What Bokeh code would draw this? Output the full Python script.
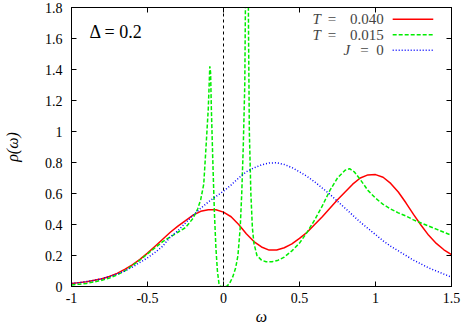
from bokeh.plotting import figure
from bokeh.models import Span, Label, Arrow, LinearAxis, FixedTicker, Range1d
from bokeh.embed import file_html
from bokeh.resources import INLINE

# ---- data ----
omega = [-1.00, -0.95, -0.90, -0.85, -0.80, -0.75, -0.70, -0.65, -0.60, -0.55,
         -0.50, -0.45, -0.40, -0.35, -0.30, -0.25, -0.20, -0.15, -0.10, -0.05,
         0.00, 0.05, 0.10, 0.15, 0.20, 0.25, 0.30, 0.35, 0.40, 0.45,
         0.50, 0.55, 0.60, 0.65, 0.70, 0.75, 0.80, 0.85, 0.90, 0.95,
         1.00, 1.05, 1.10, 1.15, 1.20, 1.25, 1.30, 1.35, 1.40, 1.45, 1.50]

rho_T040 = [0.020, 0.025, 0.030, 0.040, 0.050, 0.065, 0.085, 0.110, 0.140, 0.175,
            0.215, 0.260, 0.305, 0.350, 0.390, 0.425, 0.460, 0.485, 0.495, 0.495,
            0.480, 0.450, 0.400, 0.340, 0.290, 0.255, 0.235, 0.235, 0.250, 0.275,
            0.310, 0.350, 0.400, 0.450, 0.505, 0.560, 0.610, 0.660, 0.700, 0.720,
            0.722, 0.705, 0.665, 0.610, 0.540, 0.465, 0.395, 0.330, 0.278, 0.237, 0.205]

rho_J0 = [0.020, 0.025, 0.032, 0.040, 0.050, 0.065, 0.080, 0.100, 0.125, 0.155,
          0.185, 0.220, 0.260, 0.320, 0.360, 0.410, 0.460, 0.505, 0.545, 0.580,
          0.615, 0.655, 0.700, 0.740, 0.765, 0.785, 0.797, 0.798, 0.787, 0.767,
          0.740, 0.710, 0.675, 0.635, 0.595, 0.550, 0.505, 0.460, 0.415, 0.375,
          0.335, 0.295, 0.260, 0.230, 0.200, 0.170, 0.145, 0.120, 0.100, 0.080, 0.060]

omega_T015 = [-1.00, -0.95, -0.90, -0.85, -0.80, -0.75, -0.70, -0.65, -0.60, -0.55,
              -0.50, -0.45, -0.40, -0.35, -0.30, -0.25, -0.20, -0.17, -0.15, -0.13,
              -0.115, -0.10, -0.09, -0.085, -0.08, -0.07, -0.06, -0.05, -0.04, -0.03,
              -0.02, 0.00, 0.02, 0.04, 0.06, 0.08, 0.095, 0.11, 0.12, 0.13,
              0.14, 0.145, 0.15, 0.155, 0.16, 0.165, 0.17, 0.18, 0.19, 0.20,
              0.22, 0.25, 0.28, 0.32, 0.36, 0.40, 0.45, 0.50, 0.55, 0.60,
              0.65, 0.70, 0.75, 0.80, 0.83, 0.86, 0.90, 0.95, 1.00, 1.05,
              1.10, 1.15, 1.20, 1.25, 1.30, 1.35, 1.40, 1.45, 1.50]

rho_T015 = [0.010, 0.015, 0.020, 0.030, 0.040, 0.055, 0.075, 0.100, 0.135, 0.170,
            0.210, 0.250, 0.290, 0.320, 0.350, 0.380, 0.440, 0.500, 0.560, 0.660,
            0.900, 1.150, 1.420, 1.380, 1.150, 0.800, 0.480, 0.250, 0.100, 0.020,
            0.000, 0.000, 0.000, 0.020, 0.060, 0.120, 0.200, 0.380, 0.600, 0.900,
            1.300, 1.900, 2.600, 3.000, 2.400, 1.600, 1.000, 0.600, 0.380, 0.280,
            0.200, 0.170, 0.160, 0.160, 0.170, 0.190, 0.230, 0.280, 0.350, 0.430,
            0.520, 0.620, 0.700, 0.750, 0.760, 0.740, 0.690, 0.620, 0.570, 0.530,
            0.500, 0.475, 0.455, 0.430, 0.410, 0.390, 0.370, 0.350, 0.330]

x_ticks = [-1, -0.5, 0, 0.5, 1, 1.5]
x_tick_labels = ["-1", "-0.5", "0", "0.5", "1", "1.5"]
y_ticks = [0, 0.2, 0.4, 0.6, 0.8, 1, 1.2, 1.4, 1.6, 1.8]
y_tick_labels = ["0", "0.2", "0.4", "0.6", "0.8", "1", "1.2", "1.4", "1.6", "1.8"]

FONT = "Liberation Serif, serif"

p = figure(width=463, height=329, x_range=Range1d(-1, 1.5), y_range=Range1d(0, 1.8),
           output_backend="svg", toolbar_location=None,
           min_border_left=70, min_border_right=12, min_border_top=7, min_border_bottom=43)
p.grid.visible = False
p.outline_line_color = "black"
p.outline_line_width = 1
p.background_fill_color = "white"
p.border_fill_color = "white"


def style_axis(ax, ticks, labels, show_labels=True):
    ax.ticker = FixedTicker(ticks=ticks)
    ax.major_tick_in = 5
    ax.major_tick_out = 0
    ax.minor_tick_line_color = None
    ax.axis_line_color = "black"
    ax.major_tick_line_color = "black"
    ax.major_label_text_font = FONT
    ax.major_label_text_color = "black"
    if show_labels:
        ax.major_label_overrides = {t: l for t, l in zip(ticks, labels)}
        ax.major_label_text_font_size = "14px"
    else:
        ax.major_label_overrides = {t: "" for t in ticks}
        ax.major_label_text_font_size = "1px"
        ax.major_label_standoff = 0
        ax.axis_label = None
        ax.axis_label_standoff = 0


xa = p.xaxis[0]
ya = p.yaxis[0]
style_axis(xa, x_ticks, x_tick_labels)
style_axis(ya, y_ticks, y_tick_labels)
xa.major_label_standoff = 6
ya.major_label_standoff = 9
xa.axis_label = "ω"
ya.axis_label = "ρ(ω)"
for ax in (xa, ya):
    ax.axis_label_text_font = FONT
    ax.axis_label_text_font_size = "16px"
    ax.axis_label_text_font_style = "italic"
    ax.axis_label_text_color = "black"
xa.axis_label_standoff = 2
ya.axis_label_standoff = 21

top_ax = LinearAxis()
right_ax = LinearAxis()
style_axis(top_ax, x_ticks, x_tick_labels, show_labels=False)
style_axis(right_ax, y_ticks, y_tick_labels, show_labels=False)
p.add_layout(top_ax, "above")
p.add_layout(right_ax, "right")

# zero line
p.add_layout(Span(location=0, dimension="height", line_color="black",
                  line_width=1, line_dash="3 3"))

RED, GREEN, BLUE = "#ff0000", "#00ee00", "#0000ff"
p.line(omega, rho_T040, line_color=RED, line_width=1.5)
p.line(omega_T015, rho_T015, line_color=GREEN, line_width=1.5, line_dash="4 2")
p.line(omega, rho_J0, line_color=BLUE, line_width=1.5, line_dash="1 2")

# Delta label
p.add_layout(Label(x=-0.882, y=1.64, text="Δ = 0.2", text_font=FONT,
                   text_font_size="18px", text_baseline="middle", text_color="black"))

# legend (gnuplot style: text then sample)
rows = [
    ("T", "0.040", 0.586, 0.713, 1.725, RED, None),
    ("T", "0.015", 0.586, 0.713, 1.625, GREEN, "4 2"),
    ("J", "0", 0.79, 0.927, 1.525, BLUE, "1 2"),
]
for sym, num, xs, xe, yy, col, dash in rows:
    p.add_layout(Label(x=xs, y=yy, text=sym, text_font=FONT, text_font_size="15px",
                       text_font_style="italic", text_baseline="middle", text_align="left"))
    p.add_layout(Label(x=xe, y=yy, text="=", text_font=FONT, text_font_size="15px",
                       text_baseline="middle", text_align="center"))
    p.add_layout(Label(x=1.054, y=yy, text=num, text_font=FONT, text_font_size="15px",
                       text_baseline="middle", text_align="right"))
    kw = dict(end=None, x_start=1.113, y_start=yy, x_end=1.38, y_end=yy,
              line_color=col, line_width=1.5)
    if dash:
        kw["line_dash"] = dash
    p.add_layout(Arrow(**kw))

open("out.html", "w").write(file_html(p, INLINE))
